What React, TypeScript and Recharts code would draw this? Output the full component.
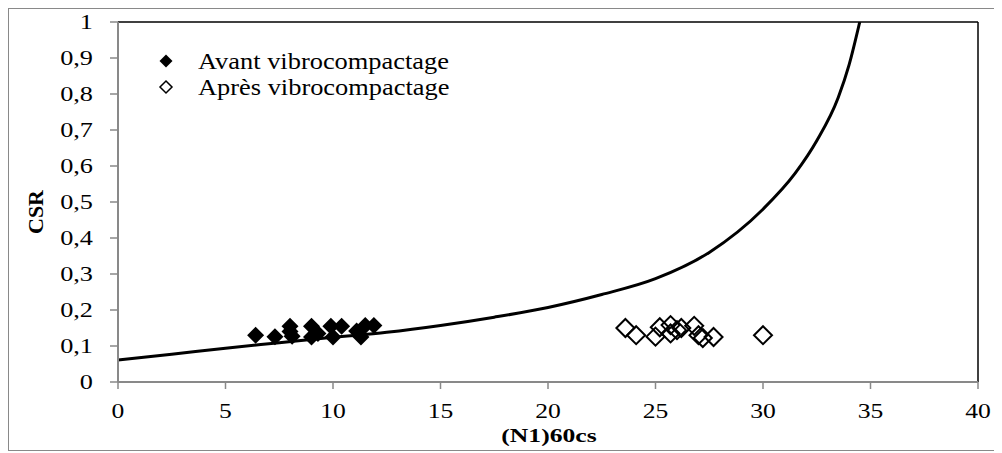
import React from "react";
import {
  ComposedChart,
  Line,
  Scatter,
  XAxis,
  YAxis,
  ReferenceLine,
} from "recharts";

// ─── Data ──────────────────────────────────────────────────────────────────
const xTicks = [0, 5, 10, 15, 20, 25, 30, 35, 40];
const yTicks = [0, 0.1, 0.2, 0.3, 0.4, 0.5, 0.6, 0.7, 0.8, 0.9, 1];

// boundary curve, (N1)60cs vs CSR
const curveN = [0, 2.5, 5, 7.5, 10, 12.5, 15, 17.5, 20, 22.5, 25, 27.5, 30, 31.5, 32.5, 33.5, 34, 34.5];
const curveCSR = [0.061, 0.077, 0.094, 0.109, 0.124, 0.138, 0.157, 0.18, 0.207, 0.243, 0.287, 0.36, 0.48, 0.58, 0.67, 0.79, 0.88, 1.0];

// before vibrocompaction
const avantN = [6.4, 7.3, 8.0, 8.0, 8.1, 9.0, 9.0, 9.3, 9.9, 10.0, 10.4, 11.1, 11.3, 11.5, 11.9];
const avantCSR = [0.13, 0.126, 0.155, 0.14, 0.127, 0.155, 0.125, 0.135, 0.155, 0.125, 0.155, 0.142, 0.125, 0.157, 0.157];

// after vibrocompaction
const apresN = [23.6, 24.1, 25.0, 25.2, 25.7, 25.7, 26.0, 26.2, 26.8, 27.0, 27.2, 27.7, 30.0];
const apresCSR = [0.15, 0.13, 0.126, 0.152, 0.158, 0.135, 0.144, 0.15, 0.156, 0.13, 0.122, 0.125, 0.13];

const curve = curveN.map((x, i) => ({ x, y: curveCSR[i] }));
const avant = avantN.map((x, i) => ({ x, y: avantCSR[i] }));
const apres = apresN.map((x, i) => ({ x, y: apresCSR[i] }));

const FONT = "'Liberation Serif', 'Times New Roman', serif";
const AXIS = "#898989";

const diamondPath = (cx: number, cy: number, r: number) =>
  `M${cx},${cy - r}L${cx + r},${cy}L${cx},${cy + r}L${cx - r},${cy}Z`;

const FilledDiamond = (p: any) => (
  <path d={diamondPath(p.cx, p.cy, 8.5)} fill="#000" />
);

const HollowDiamond = (p: any) => (
  <path d={diamondPath(p.cx, p.cy, 9)} fill="none" stroke="#000" strokeWidth={2} />
);

const YTick = ({ x, y, payload }: any) => (
  <text
    x={0}
    y={0}
    transform={`translate(${x},${y}) scale(1.25,1)`}
    textAnchor="end"
    dominantBaseline="central"
    fontSize={21}
    fontFamily={FONT}
    fill="#000"
  >
    {String(payload.value).replace(".", ",")}
  </text>
);

const XTick = ({ x, y, payload }: any) => (
  <text
    x={0}
    y={0}
    transform={`translate(${x},${y + 22}) scale(1.22,1)`}
    textAnchor="middle"
    dominantBaseline="central"
    fontSize={21}
    fontFamily={FONT}
    fill="#000"
  >
    {payload.value}
  </text>
);

const XTitle = () => (
  <text
    x={0}
    y={0}
    transform="translate(540,427) scale(1.35,1)"
    textAnchor="middle"
    dominantBaseline="central"
    fontSize={19}
    fontWeight="bold"
    fontFamily={FONT}
    fill="#000"
  >
    (N1)60cs
  </text>
);

const YTitle = () => (
  <text
    x={0}
    y={0}
    transform="translate(26,203) rotate(-90)"
    textAnchor="middle"
    dominantBaseline="central"
    fontSize={22}
    fontWeight="bold"
    fontFamily={FONT}
    fill="#000"
  >
    CSR
  </text>
);

const legendItems = [
  { label: "Avant vibrocompactage", filled: true },
  { label: "Après vibrocompactage", filled: false },
];

function ChartLegend() {
  return (
    <div style={{ position: "absolute", left: 149, top: 39, fontFamily: FONT }}>
      {legendItems.map((it) => (
        <div key={it.label} style={{ display: "flex", alignItems: "center", height: 26 }}>
          <svg width={16} height={16} style={{ marginRight: 24 }}>
            <path
              d={diamondPath(8, 8, it.filled ? 6.5 : 6)}
              fill={it.filled ? "#000" : "none"}
              stroke="#000"
              strokeWidth={it.filled ? 0 : 1.5}
            />
          </svg>
          <span
            style={{
              fontSize: 24,
              lineHeight: "26px",
              whiteSpace: "nowrap",
              display: "inline-block",
              transform: "scaleX(1.1)",
              transformOrigin: "left center",
            }}
          >
            {it.label}
          </span>
        </div>
      ))}
    </div>
  );
}

export default function App() {
  return (
    <div
      style={{
        position: "relative",
        width: 990,
        height: 443,
        border: `1px solid ${AXIS}`,
        boxSizing: "border-box",
        background: "#fff",
      }}
    >
      <ComposedChart
        width={988}
        height={441}
        margin={{ top: 13, right: 19, bottom: 0, left: 0 }}
      >
        <XAxis
          type="number"
          dataKey="x"
          domain={[0, 40]}
          ticks={xTicks}
          interval={0}
          height={68}
          tickSize={7}
          tickMargin={0}
          axisLine={{ stroke: AXIS, strokeWidth: 2 }}
          tickLine={{ stroke: AXIS, strokeWidth: 1.5 }}
          tick={<XTick />}
          label={<XTitle />}
          allowDataOverflow
        />
        <YAxis
          type="number"
          dataKey="y"
          domain={[0, 1]}
          ticks={yTicks}
          interval={0}
          width={109}
          tickSize={8}
          tickMargin={17}
          axisLine={{ stroke: AXIS, strokeWidth: 2 }}
          tickLine={{ stroke: AXIS, strokeWidth: 1.5 }}
          tick={<YTick />}
          label={<YTitle />}
          allowDataOverflow
        />
        <ReferenceLine y={1} stroke="#000" strokeWidth={1.5} />
        <ReferenceLine x={40} stroke="#000" strokeWidth={1.5} />
        <Scatter
          data={avant}
          dataKey="y"
          shape={FilledDiamond}
          isAnimationActive={false}
        />
        <Scatter
          data={apres}
          dataKey="y"
          shape={HollowDiamond}
          isAnimationActive={false}
        />
        <Line
          data={curve}
          dataKey="y"
          type="monotone"
          stroke="#000"
          strokeWidth={3}
          dot={false}
          activeDot={false}
          isAnimationActive={false}
        />
      </ComposedChart>
      <ChartLegend />
    </div>
  );
}
